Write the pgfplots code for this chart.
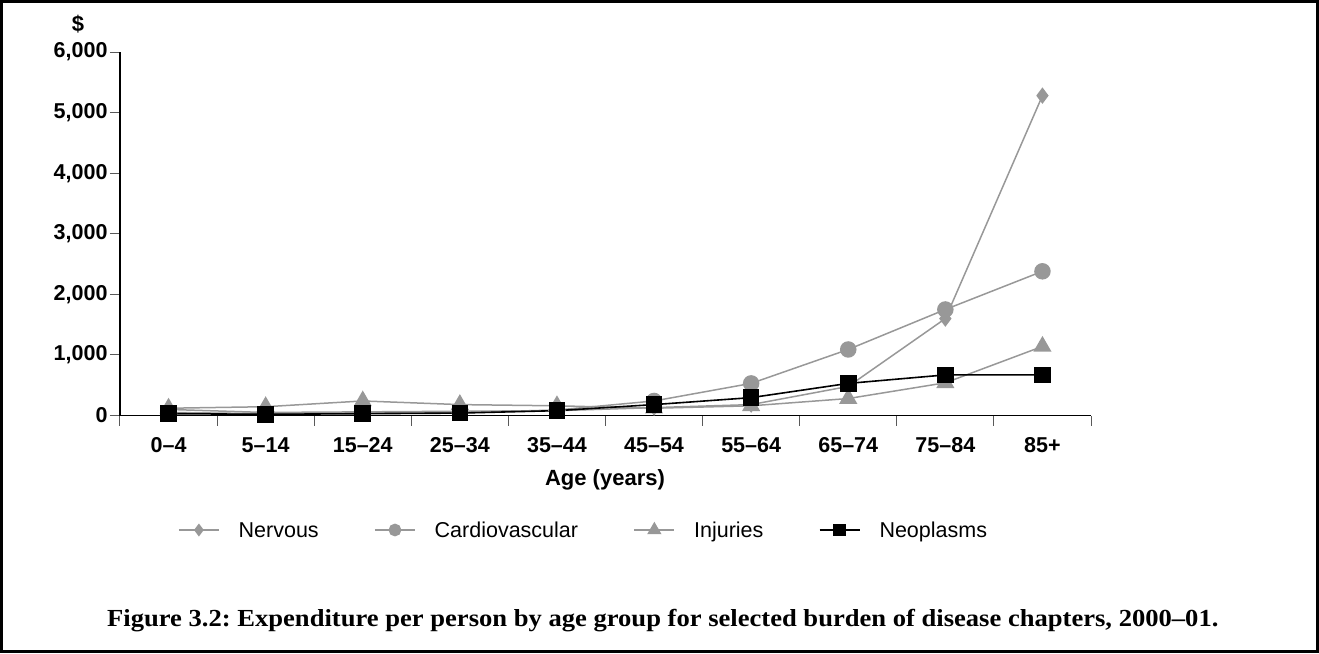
\documentclass[border=0pt]{standalone}
\usepackage{fontspec}
\setmainfont{Liberation Sans}
\newfontfamily\capfont[FakeStretch=1.085,Ligatures=TeX]{Liberation Serif}
\usepackage{pgfplots}
\pgfplotsset{compat=1.18}
\definecolor{ser}{RGB}{152,152,152}
\begin{document}
\frenchspacing
\begin{tikzpicture}
\begin{axis}[
  name=ax, anchor=south west,
  scale only axis, width=971pt, height=363.5pt,
  axis lines*=left, axis line style={line width=1.6pt},
  xmin=-0.5, xmax=9.5, ymin=0, ymax=6000, clip=false,
  xtick={0,...,9},
  xticklabels={0--4,5--14,15--24,25--34,35--44,45--54,55--64,65--74,75--84,85+},
  minor xtick={-0.5,0.5,...,9.5},
  ytick={0,1000,...,6000},
  major x tick style={draw=none},
  tick align=outside, major tick length=10pt, minor tick length=10pt,
  tick style={black!65, line width=1pt},
  /pgf/number format/assume math mode=true,
  /pgf/number format/.cd, 1000 sep={,}, /pgfplots/.cd,
  ticklabel style={font=\bfseries\fontsize{21.5}{23}\selectfont},
  yticklabel style={xshift=1pt},
  xticklabel style={anchor=north, text height=15.5pt, text depth=0pt, yshift=-8pt},
  xlabel={Age (years)},
  xlabel style={at={(axis description cs:0.4995,-0.1774)}, anchor=center, font=\bfseries\fontsize{22}{24}\selectfont},
  legend columns=4,
  legend style={at={(0.0597,-0.315)}, anchor=west, draw=none, inner sep=0pt,
    font=\fontsize{21.5}{24}\selectfont,
    /tikz/every even column/.append style={column sep=53.5pt, text height=15.5pt, text depth=4.5pt}},
  legend image code/.code={\draw[mark repeat=2,mark phase=2,mark options={scale=0.75}] plot coordinates {(0pt,0pt)(20pt,0pt)(40pt,0pt)}; \path (57pt,0pt);},
]
\addplot[ser, line width=1.5pt, mark=diamond*, mark size=7pt, mark options={solid,fill=ser}]
  coordinates {(0,100) (1,50) (2,60) (3,70) (4,80) (5,130) (6,180) (7,480) (8,1600) (9,5280)};
\addlegendentry{Nervous}
\addplot[ser, line width=1.5pt, mark=*, mark size=7.5pt, mark options={solid,fill=ser}]
  coordinates {(0,50) (1,30) (2,40) (3,50) (4,90) (5,240) (6,530) (7,1090) (8,1750) (9,2380)};
\addlegendentry{Cardiovascular}
\addplot[ser, line width=1.5pt, mark=triangle*, mark size=9pt, mark options={solid,fill=ser}]
  coordinates {(0,120) (1,145) (2,240) (3,180) (4,160) (5,120) (6,160) (7,280) (8,540) (9,1140)};
\addlegendentry{Injuries}
\addplot[black, line width=1.6pt, mark=square*, mark size=7.5pt, mark options={solid,fill=black}]
  coordinates {(0,30) (1,20) (2,30) (3,40) (4,80) (5,180) (6,295) (7,530) (8,670) (9,670)};
\addlegendentry{Neoplasms}
\draw[line width=3pt] ([xshift=-118.5pt,yshift=-236pt]rel axis cs:0,0) rectangle ([xshift=1197.5pt,yshift=414pt]rel axis cs:0,0);
\node[font=\bfseries\fontsize{22}{24}\selectfont] at ([xshift=-42pt,yshift=391.5pt]rel axis cs:0,0) {\$};
\node[anchor=base west, inner sep=0pt, font=\capfont\bfseries\fontsize{24.5}{26}\selectfont] at ([xshift=-13pt,yshift=-211pt]rel axis cs:0,0) {Figure 3.2: Expenditure per person by age group for selected burden of disease chapters, 2000\textendash 01.};
\end{axis}
\end{tikzpicture}
\end{document}
